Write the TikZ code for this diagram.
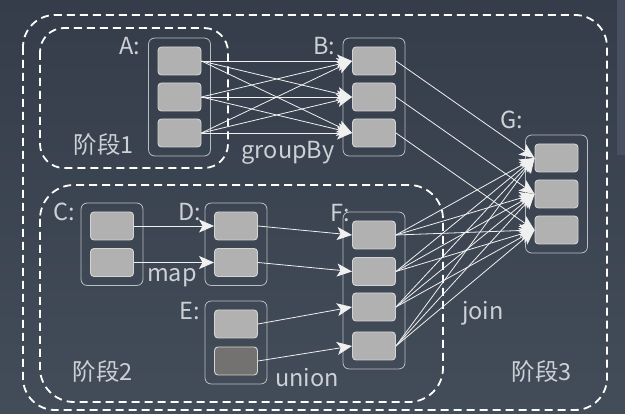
\documentclass[tikz,border=0pt]{standalone}
\usepackage{fontspec}
\setmainfont{Noto Sans CJK SC}
\usetikzlibrary{arrows.meta, fit, positioning}
\definecolor{bgtop}{HTML}{343D49}
\definecolor{bgbot}{HTML}{434C59}
\definecolor{strip}{HTML}{475161}
\definecolor{cellfill}{HTML}{B1B1B1}
\definecolor{celldark}{HTML}{737270}
\definecolor{cellline}{HTML}{D4D4D4}
\definecolor{grpline}{HTML}{B9BEC5}
\definecolor{txt}{HTML}{CDD1D6}
\tikzset{
  cell/.style={draw=cellline, fill=cellfill, line width=0.9pt, rounded corners=3.5pt,
    minimum width=43pt, minimum height=28pt, inner sep=0pt},
  darkcell/.style={cell, fill=celldark},
  grp/.style={draw=grpline, line width=0.8pt, rounded corners=6pt, inner xsep=9pt, inner ysep=8.5pt},
  stage/.style={draw=white, line width=1.8pt, dash pattern=on 8pt off 5pt, rounded corners=#1},
  lbl/.style={text=txt, font=\fontsize{23.5pt}{26pt}\selectfont, inner sep=0pt},
  flow/.style={draw=white!88!gray, line width=0.8pt, -{Stealth[length=15pt, width=13pt, inset=3.5pt]}}
}
\begin{document}
\begin{tikzpicture}[x=1pt, y=-1pt]
\useasboundingbox (0,0) rectangle (625,414);
\shade[top color=bgtop, bottom color=bgbot] (0,0) rectangle (625,414);
\fill[strip] (617,0) rectangle (625,155);
% stages
\draw[stage=32pt] (23,15) rectangle (607,410);
\draw[stage=24pt] (40,28) rectangle (228,168);
\draw[stage=34pt] (40,185) rectangle (443,402);
% cells
\foreach \y [count=\i] in {61,97,133}{
  \node[cell] (A\i) at (179.5,\y) {};
  \node[cell] (B\i) at (374,\y) {};
}
\foreach \y [count=\i] in {158,194,230}
  \node[cell] (G\i) at (556.5,\y) {};
\foreach \y [count=\i] in {226,262.5}{
  \node[cell] (C\i) at (112,\y) {};
  \node[cell] (D\i) at (236,\y) {};
}
\node[cell] (E1) at (236,324) {};
\node[darkcell] (E2) at (236,361) {};
\foreach \y [count=\i] in {235,271.5,307,346}
  \node[cell] (F\i) at (374,\y) {};
% groups
\node[grp, fit=(A1)(A3)] (gA) {};
\node[grp, fit=(B1)(B3)] (gB) {};
\node[grp, fit=(G1)(G3)] (gG) {};
\node[grp, fit=(C1)(C2)] (gC) {};
\node[grp, fit=(D1)(D2)] (gD) {};
\node[grp, fit=(E1)(E2)] (gE) {};
\node[grp, fit=(F1)(F4)] (gF) {};
% labels
\node[lbl] (lA) at (130,46) {A:};
\node[lbl] (lB) at (324,46) {B:};
\node[lbl] (lG) at (512,120) {G:};
\node[lbl] (lC) at (64,212) {C:};
\node[lbl] (lD) at (190,212) {D:};
\node[lbl] (lE) at (190,311) {E:};
\node[lbl] (lF) at (340,213) {F:};
\node[lbl] (lmap) at (172,278) {map};
\node[lbl] (lunion) at (307,378) {union};
\node[lbl] (lgroup) at (288,153) {groupBy};
\node[lbl] (ljoin) at (483,313) {join};
\node[lbl] (s1) at (104,145) {阶段1};
\node[lbl] (s2) at (103,372) {阶段2};
\node[lbl] (s3) at (542,372) {阶段3};
% connectors
\foreach \i in {1,2,3}
  \foreach \j in {1,2,3}
    \draw[flow] (A\i.east) -- (B\j.west);
\foreach \i in {1,2,3}
  \draw[flow] (B\i.east) -- (G\i.west);
\foreach \i in {1,...,4}
  \foreach \j in {1,2,3}
    \draw[flow] (F\i.east) -- (G\j.west);
\foreach \i in {1,2}{
  \draw[flow] (C\i.east) -- (D\i.west);
  \draw[flow] (D\i.east) -- (F\i.west);
}
\draw[flow] (E1.east) -- (F3.west);
\draw[flow] (E2.east) -- (F4.west);
\end{tikzpicture}
\end{document}
